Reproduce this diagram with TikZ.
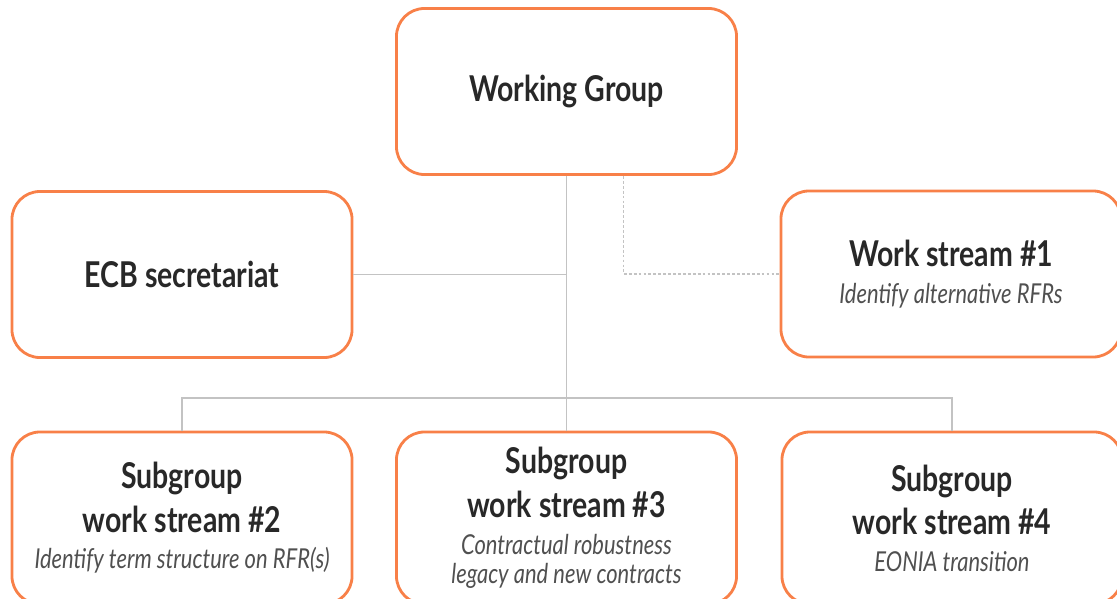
\documentclass[tikz,border=0pt]{standalone}
\usepackage{fontspec}
\setmainfont{Lato}[FakeStretch=0.8]
\usetikzlibrary{calc}
\usetikzlibrary{positioning}
\definecolor{ingorange}{RGB}{248,128,72}
\definecolor{linegray}{RGB}{195,195,195}
\definecolor{textgray}{RGB}{40,40,40}
\definecolor{subgray}{RGB}{80,80,80}
\newcommand{\widthbox}{8.5cm}
\newcommand{\heightbox}{4.15cm}
\newcommand{\titletext}[1]{{\bfseries #1}}
\newcommand{\subtext}[1]{{\fontsize{19.5}{23}\selectfont\itshape\color{subgray}#1}}
\tikzset{
    box/.style={draw=ingorange, line width=2pt, rounded corners=0.7cm, rectangle, fill=white,
        minimum width=\widthbox, minimum height=\heightbox, align=center, text=textgray,
        font=\fontsize{25.3}{30}\selectfont},
    lowbox/.style={box, minimum height=4.3cm},
    link/.style={draw=linegray, line width=0.9pt},
    dotlink/.style={link, dash pattern=on 2pt off 1.5pt},
}

\begin{document}
\begin{tikzpicture}[x=0.025cm, y=-0.025cm]
    \useasboundingbox (0,0) rectangle (1117,598);
    \clip (0,0) rectangle (1117,598);

    \node[box] (wg) at (566.5,91.5) {\titletext{Working Group}};
    \node[box] (ecb) at (182,274.5) {\titletext{ECB secretariat}};
    \node[box] (ws1) at (951,274) {\titletext{Work stream \#1}\\[-4pt]
        \subtext{Identify alternative RFRs}};

    \node[lowbox] (sg2) at (182,518) {\titletext{Subgroup}\\[1pt]
        \titletext{work stream \#2}\\[-4pt]
        \subtext{Identify term structure on RFR(s)}};
    \node[lowbox] (sg3) at (566.5,518) {\titletext{Subgroup}\\[1pt]
        \titletext{work stream \#3}\\[-4pt]
        \subtext{Contractual robustness}\\[-9pt]
        \subtext{legacy and new contracts}};
    \node[lowbox] (sg4) at (952,518) {\titletext{Subgroup}\\[1pt]
        \titletext{work stream \#4}\\[-4pt]
        \subtext{EONIA transition}};

    \coordinate (hub) at (wg.south |- ecb.east);
    \coordinate (bus) at (566.5,398);

    % solid lines
    \draw[link] (wg.south) -- (sg3.north);
    \draw[link] (ecb.east) -- (hub);
    \draw[link] (sg2.north) |- (bus) -| (sg4.north);
    % dotted one to the first work stream
    \draw[dotlink] ($(wg.south)+(57,0)$) |- (ws1.west);
\end{tikzpicture}
\end{document}
